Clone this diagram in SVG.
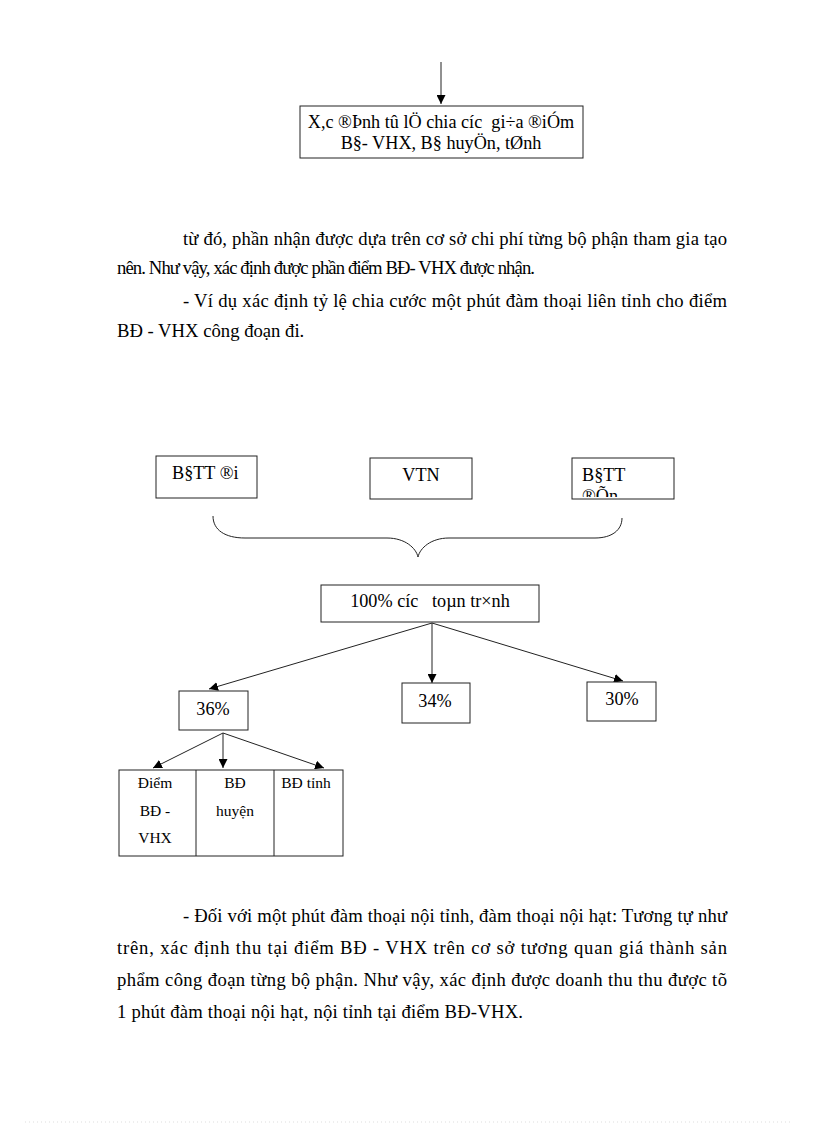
<svg xmlns="http://www.w3.org/2000/svg" width="816" height="1123" viewBox="0 0 816 1123" font-family="Liberation Serif">
<style>
text{fill:#000}
.p{font-size:18.67px}
.b{font-size:18.2px}
.s{font-size:15.5px}
.box{fill:#fff;stroke:#222;stroke-width:1}
.ln{fill:none;stroke:#222;stroke-width:1}
</style>
<defs>
<marker id="ah" viewBox="0 0 10 10" refX="10" refY="5" markerWidth="9" markerHeight="9" markerUnits="userSpaceOnUse" orient="auto">
<path d="M0,0 L10,5 L0,10 z" fill="#000"/>
</marker>
<clipPath id="clipDen"><rect x="572" y="458" width="102" height="39"/></clipPath>
</defs>
<rect width="816" height="1123" fill="#fff"/>

<g id="connectors">
<line class="ln" x1="441" y1="62" x2="441" y2="104" marker-end="url(#ah)"/>
<path class="ln" d="M213,516 C213,530 225,538 245,538 L387,538 C405,538 416,548 418,557 C420,548 431,538 449,538 L595,538 C612,538 622,530 622,518"/>
<line class="ln" x1="432" y1="623" x2="209" y2="689" marker-end="url(#ah)"/>
<line class="ln" x1="432" y1="623" x2="432" y2="683" marker-end="url(#ah)"/>
<line class="ln" x1="432" y1="623" x2="623" y2="681" marker-end="url(#ah)"/>
<line class="ln" x1="223" y1="733" x2="153" y2="768" marker-end="url(#ah)"/>
<line class="ln" x1="223" y1="733" x2="223" y2="768" marker-end="url(#ah)"/>
<line class="ln" x1="223" y1="733" x2="324" y2="768" marker-end="url(#ah)"/>
</g>

<g id="node-top" font-family="Liberation Serif">
<rect class="box" x="300" y="106" width="283" height="52"/>
<text class="b" x="441" y="128" text-anchor="middle" xml:space="preserve">X,c ®Þnh tû lÖ chia cíc  gi÷a ®iÓm</text>
<text class="b" x="441" y="149" text-anchor="middle">B§- VHX, B§ huyÖn, tØnh</text>
</g>

<g id="para1" font-family="Liberation Serif">
<text class="p" x="183" y="245" textLength="544" lengthAdjust="spacing">từ đó, phần nhận được dựa trên cơ sở chi phí từng bộ phận tham gia tạo</text>
<text class="p" x="117" y="274" textLength="418" lengthAdjust="spacing">nên. Như vậy, xác định được phần điểm BĐ- VHX được nhận.</text>
<text class="p" x="183" y="307" textLength="544" lengthAdjust="spacing">- Ví dụ xác định tỷ lệ chia cước một phút đàm thoại liên tỉnh cho điểm</text>
<text class="p" x="117" y="337">BĐ - VHX công đoạn đi.</text>
</g>

<g id="node-bdtt-di" font-family="Liberation Serif">
<rect class="box" x="156" y="456" width="101" height="42"/>
<text class="b" x="172" y="479">B§TT ®i</text>
</g>
<g id="node-vtn" font-family="Liberation Serif">
<rect class="box" x="370" y="458" width="102" height="41"/>
<text class="b" x="421" y="481" text-anchor="middle">VTN</text>
</g>
<g id="node-bdtt-den" font-family="Liberation Serif">
<rect class="box" x="572" y="458" width="102" height="41"/>
<text class="b" x="582" y="481">B§TT</text>
<text class="b" x="582" y="502" clip-path="url(#clipDen)">®Õn</text>
</g>

<g id="node-100" font-family="Liberation Serif">
<rect class="box" x="321" y="585" width="218" height="37"/>
<text class="b" x="430" y="607" text-anchor="middle" xml:space="preserve">100% cíc   toµn tr×nh</text>
</g>
<g id="node-36" font-family="Liberation Serif">
<rect class="box" x="179" y="691" width="69" height="39"/>
<text class="b" x="213" y="715" text-anchor="middle">36%</text>
</g>
<g id="node-34" font-family="Liberation Serif">
<rect class="box" x="402" y="683" width="68" height="40"/>
<text class="b" x="435" y="707" text-anchor="middle">34%</text>
</g>
<g id="node-30" font-family="Liberation Serif">
<rect class="box" x="587" y="682" width="69" height="39"/>
<text class="b" x="622" y="705" text-anchor="middle">30%</text>
</g>

<g id="node-table" font-family="Liberation Serif">
<rect class="box" x="119" y="770" width="224" height="86"/>
<line class="ln" x1="196" y1="770" x2="196" y2="856"/>
<line class="ln" x1="274" y1="770" x2="274" y2="856"/>
<text class="s" x="155" y="788" text-anchor="middle">Điểm</text>
<text class="s" x="155" y="816" text-anchor="middle">BĐ -</text>
<text class="s" x="155" y="843" text-anchor="middle">VHX</text>
<text class="s" x="235" y="788" text-anchor="middle">BĐ</text>
<text class="s" x="235" y="816" text-anchor="middle">huyện</text>
<text class="s" x="306" y="788" text-anchor="middle">BĐ tỉnh</text>
</g>

<g id="para2" font-family="Liberation Serif">
<text class="p" x="183" y="922" textLength="544" lengthAdjust="spacing">- Đối với một phút đàm thoại nội tỉnh, đàm thoại nội hạt: Tương tự như</text>
<text class="p" x="117" y="954" textLength="610" lengthAdjust="spacing">trên, xác định thu tại điểm BĐ - VHX trên cơ sở tương quan giá thành sản</text>
<text class="p" x="117" y="986" textLength="610" lengthAdjust="spacing">phẩm công đoạn từng bộ phận. Như vậy, xác định được doanh thu thu được tõ</text>
<text class="p" x="117" y="1018" textLength="406" lengthAdjust="spacing">1 phút đàm thoại nội hạt, nội tỉnh tại điểm BĐ-VHX.</text>
</g>

<line x1="25" y1="1122" x2="790" y2="1122" stroke="#ddd" stroke-width="1" stroke-dasharray="1,3"/>
</svg>
